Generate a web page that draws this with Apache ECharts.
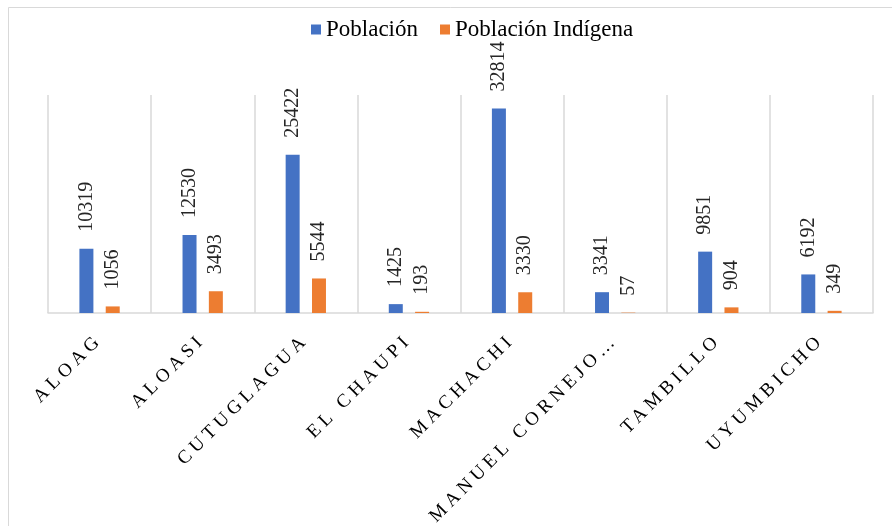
<!DOCTYPE html>
<html>
<head>
<meta charset="utf-8">
<script src="https://cdn.jsdelivr.net/npm/echarts@6/dist/echarts.min.js"></script>
<style>
html,body{margin:0;padding:0;background:#fff;}
#c{width:892px;height:526px;}
</style>
</head>
<body>
<div id="c"></div>
<script>
const categories = ['ALOAG', 'ALOASI', 'CUTUGLAGUA', 'EL CHAUPI', 'MACHACHI', 'MANUEL CORNEJO ASTORGA', 'TAMBILLO', 'UYUMBICHO'];
const poblacion = [10319, 12530, 25422, 1425, 32814, 3341, 9851, 6192];
const poblacionIndigena = [1056, 3493, 5544, 193, 3330, 57, 904, 349];
const seriesNames = ['Población', 'Población Indígena'];

// Expanded character spacing for the category labels (19px text only)
(function () {
  const proto = CanvasRenderingContext2D.prototype;
  const origFill = proto.fillText;
  proto.fillText = function (t, x, y, w) {
    if ('letterSpacing' in this) {
      this.letterSpacing = /(^|\s)19px/.test(this.font) ? '4.5px' : '0px';
    }
    return w === undefined ? origFill.call(this, t, x, y) : origFill.call(this, t, x, y, w);
  };
})();

const chart = echarts.init(document.getElementById('c'));
const serif = '"Liberation Serif", "Times New Roman", serif';
const labelCfg = {
  show: true,
  position: 'top',
  rotate: 90,
  align: 'left',
  verticalAlign: 'middle',
  distance: 17,
  fontFamily: serif,
  fontSize: 20,
  color: '#262626'
};
chart.setOption({
  animation: false,
  backgroundColor: '#fff',
  graphic: [{
    type: 'rect',
    shape: { x: 8.5, y: 7.5, width: 1000, height: 1000 },
    style: { fill: 'none', stroke: '#d9d9d9', lineWidth: 1 },
    silent: true
  }],
  legend: {
    data: seriesNames,
    left: 306,
    top: 13,
    itemWidth: 10,
    itemHeight: 10,
    itemGap: 22,
    icon: 'rect',
    textStyle: { fontFamily: serif, fontSize: 23, color: '#000' }
  },
  grid: { left: 48, right: 19, top: 95, bottom: 213, containLabel: false },
  xAxis: {
    type: 'category',
    data: categories,
    axisLine: { show: true, lineStyle: { color: '#d9d9d9', width: 1.5 } },
    axisTick: { show: false },
    splitLine: { show: true, interval: 0, lineStyle: { color: '#d9d9d9', width: 1.5 } },
    axisLabel: {
      interval: 0,
      rotate: 45,
      margin: 24,
      fontFamily: serif,
      fontSize: 19,
      color: '#000',
      formatter: function (v) { return v.length > 16 ? v.slice(0, 14) + '…' : v; }
    }
  },
  yAxis: {
    type: 'value',
    min: 0,
    max: 35000,
    interval: 5000,
    show: false,
    splitLine: { show: false }
  },
  series: [
    {
      name: seriesNames[0],
      type: 'bar',
      data: poblacion,
      barWidth: 14,
      barGap: '88%',
      itemStyle: { color: '#4472c4' },
      label: labelCfg
    },
    {
      name: seriesNames[1],
      type: 'bar',
      data: poblacionIndigena,
      barWidth: 14,
      itemStyle: { color: '#ed7d31' },
      label: labelCfg
    }
  ]
});
</script>
</body>
</html>
